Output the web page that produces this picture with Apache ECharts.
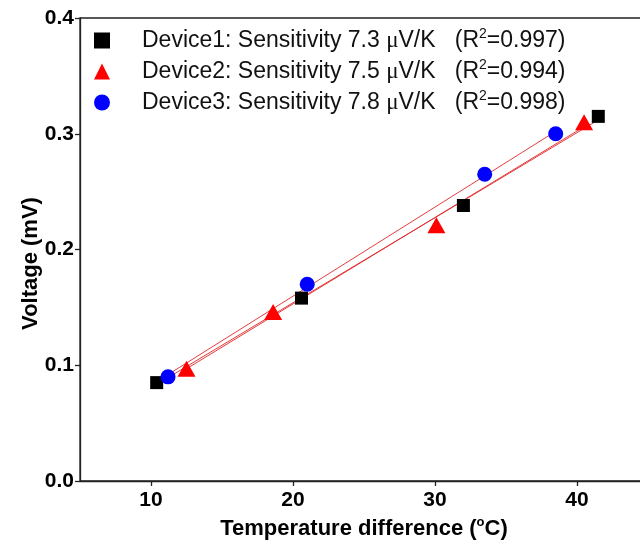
<!DOCTYPE html>
<html><head><meta charset="utf-8">
<script src="https://cdn.jsdelivr.net/npm/echarts@6/dist/echarts.min.js"></script>
<style>html,body{margin:0;padding:0;overflow:hidden;background:#fff;width:640px;height:547px}
#c{width:720px;height:547px}</style></head>
<body><div id="c"></div>
<script>
const deviceNames = ['Device1', 'Device2', 'Device3'];
const sensitivities = ['7.3', '7.5', '7.8'];
const r2Values = ['0.997', '0.994', '0.998'];
const device1X = [10.4, 20.6, 32.0, 41.5];
const device1Y = [0.085, 0.158, 0.238, 0.315];
const device2X = [12.5, 18.6, 30.1, 40.5];
const device2Y = [0.097, 0.146, 0.221, 0.310];
const device3X = [11.2, 21.0, 33.5, 38.5];
const device3Y = [0.090, 0.170, 0.265, 0.300];
const xTicks = [10, 20, 30, 40];
const yTicks = [0, 0.1, 0.2, 0.3, 0.4];

const xs = [device1X, device2X, device3X];
const ys = [device1Y, device2Y, device3Y];
const symbols = ['rect', 'triangle', 'circle'];
const sizes = [13, [18, 16], 15];
const colors = ['#000000', '#ff0000', '#0000ff'];

function fit(x, y) {
  const n = x.length;
  const mx = x.reduce((a, b) => a + b, 0) / n;
  const my = y.reduce((a, b) => a + b, 0) / n;
  let sxy = 0, sxx = 0;
  for (let i = 0; i < n; i++) { sxy += (x[i] - mx) * (y[i] - my); sxx += (x[i] - mx) ** 2; }
  const k = sxy / sxx, b = my - k * mx;
  const x0 = Math.min(...x), x1 = Math.max(...x);
  return [[x0, k * x0 + b], [x1, k * x1 + b]];
}

const series = [];
for (let i = 0; i < 3; i++) {
  series.push({
    name: 'fit' + (i + 1), type: 'line', data: fit(xs[i], ys[i]), symbol: 'none',
    lineStyle: { color: 'rgba(225,40,40,0.9)', width: 1 }, z: 1, silent: true
  });
}
for (let i = 0; i < 3; i++) {
  series.push({
    name: deviceNames[i], type: 'scatter', symbol: symbols[i], symbolSize: sizes[i],
    itemStyle: { color: colors[i], opacity: 1 },
    data: xs[i].map((v, j) => [v, ys[i][j]]), z: 3
  });
}

const chart = echarts.init(document.getElementById('c'));
const lblFont = { fontFamily: 'Liberation Sans, Arial', fontWeight: 'bold', fontSize: 21, color: '#000' };
const titleFont = { fontFamily: 'Liberation Sans, Arial', fontWeight: 'bold', fontSize: 22, color: '#000' };
chart.setOption({
  animation: false,
  grid: { left: 80, top: 18, width: 568, height: 463, show: true, borderColor: '#222', borderWidth: 1.3 },
  legend: {
    orient: 'vertical', left: 94, top: 25, itemGap: 0, itemWidth: 16, itemHeight: 16, padding: 0,
    data: deviceNames.map((n, i) => ({ name: n, icon: symbols[i] })),
    formatter: function (name) {
      const i = deviceNames.indexOf(name);
      return name + ': Sensitivity ' + sensitivities[i] + ' {mu|\u03bc}V/K   (R{sup|2}=' + r2Values[i] + ')';
    },
    textStyle: {
      fontFamily: 'Liberation Sans, Arial', fontSize: 23, color: '#111', lineHeight: 31, padding: [0, 0, 0, 27],
      rich: {
        mu: { fontFamily: 'Liberation Serif, Times New Roman', fontSize: 23, lineHeight: 31, color: '#111' },
        sup: { fontFamily: 'Liberation Sans, Arial', fontSize: 14, lineHeight: 14, color: '#111', padding: [0, 0, 13, 0] }
      }
    }
  },
  xAxis: {
    type: 'value', min: 5, max: 45,
    name: 'Temperature difference ({sup|o}C)', nameLocation: 'middle', nameGap: 33,
    nameTextStyle: Object.assign({}, titleFont, {
      rich: { sup: { fontFamily: 'Liberation Sans, Arial', fontWeight: 'bold', fontSize: 13, color: '#000', padding: [0, 0, 14, 0] } }
    }),
    axisLine: { show: true, lineStyle: { color: '#222', width: 1.3 } },
    axisTick: { show: true, inside: false, length: 5, customValues: xTicks, lineStyle: { color: '#222', width: 1.3 } },
    axisLabel: Object.assign({}, lblFont, { customValues: xTicks, margin: 9 }),
    splitLine: { show: false }
  },
  yAxis: {
    type: 'value', min: 0, max: 0.4, interval: 0.1,
    name: 'Voltage (mV)', nameLocation: 'middle', nameGap: 38, nameRotate: 90, nameMoveOverlap: false,
    nameTextStyle: Object.assign({}, titleFont, { padding: [0, 28, 0, 0] }),
    axisLine: { show: true, lineStyle: { color: '#222', width: 1.3 } },
    axisTick: { show: true, inside: false, length: 5, lineStyle: { color: '#222', width: 1.3 } },
    axisLabel: Object.assign({}, lblFont, { customValues: yTicks, margin: 6, formatter: v => v.toFixed(1) }),
    splitLine: { show: false }
  },
  series: series
});
</script>
</body></html>
